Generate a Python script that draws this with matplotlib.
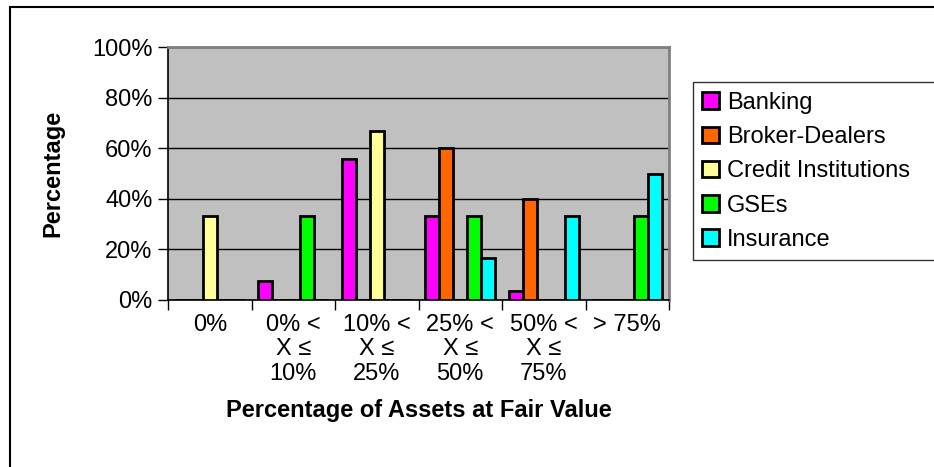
import numpy as np
import matplotlib
matplotlib.use("Agg")
import matplotlib.pyplot as plt
from matplotlib.patches import Rectangle

plt.rcParams['font.family'] = ['Liberation Sans', 'DejaVu Sans']

categories = ['0%', '0% <\nX \u2264\n10%', '10% <\nX \u2264\n25%',
              '25% <\nX \u2264\n50%', '50% <\nX \u2264\n75%', '> 75%']
series = ['Banking', 'Broker-Dealers', 'Credit Institutions', 'GSEs', 'Insurance']
banking = [0, 7.4, 55.6, 33.3, 3.7, 0]
brokers = [0, 0, 0, 60.0, 40.0, 0]
credit = [33.3, 0, 66.7, 0, 0, 0]
gses = [0, 33.3, 0, 33.3, 0, 33.3]
insurance = [0, 0, 0, 16.7, 33.3, 50.0]
colors = ['#FF00FF', '#FF6600', '#FFFF99', '#00FF00', '#00FFFF']

values = [banking, brokers, credit, gses, insurance]

W, H = 934, 467
fig = plt.figure(figsize=(W / 100, H / 100), dpi=100)
ax = fig.add_axes([168 / W, 1 - 300 / H, (669 - 168) / W, (300 - 47) / H])
ax.set_facecolor('#C0C0C0')

x = np.arange(len(categories))
w = 1 / 6
for i, (name, vals) in enumerate(zip(series, values)):
    ax.bar(x + (i - 2) * w, vals, width=w, color=colors[i], edgecolor='black',
           linewidth=2.0, label=name, zorder=3)

fs = 17
ax.set_xlim(-0.5, len(categories) - 0.5)
ax.set_ylim(0, 100)
ax.set_yticks(np.arange(0, 101, 20))
ax.set_yticklabels(['%d%%' % v for v in range(0, 101, 20)], fontsize=fs)
ax.yaxis.grid(True, color='black', linewidth=1.0, zorder=1)
ax.set_axisbelow(True)

ax.set_xticks(x)
ax.set_xticklabels(categories, fontsize=fs, linespacing=1.15)
ax.tick_params(axis='x', length=0, pad=10)
ax.set_xticks(np.arange(-0.5, len(categories)), minor=True)
ax.tick_params(axis='x', which='minor', length=7, width=1, direction='out')
ax.tick_params(axis='y', length=7, width=1, direction='out', pad=4)

for s in ['top', 'right']:
    ax.spines[s].set_color('#808080')
    ax.spines[s].set_linewidth(2)
ax.spines['left'].set_color('black')
ax.spines['bottom'].set_color('black')
ax.spines['left'].set_linewidth(1.2)
ax.spines['bottom'].set_linewidth(1.2)

ax.set_xlabel('Percentage of Assets at Fair Value', fontsize=fs, fontweight='bold',
              labelpad=10)
ax.set_ylabel('Percentage', fontsize=fs, fontweight='bold', labelpad=20)

leg = fig.legend(loc='upper left', bbox_to_anchor=(693 / W, 1 - 87 / H, 260 / W, 0.01),
                 mode='expand',
                 fontsize=fs, frameon=True, fancybox=False, edgecolor='black',
                 handlelength=0.7, handleheight=0.7, handletextpad=0.35,
                 labelspacing=0.52, borderpad=0.4, borderaxespad=0)
leg.get_frame().set_linewidth(1.0)

fig.patches.append(Rectangle((10 / W, -0.1), 2, 1 - 7 / H + 0.1,
                             transform=fig.transFigure, fill=False,
                             edgecolor='black', linewidth=1.5))

fig.savefig('out.png', dpi=100)
